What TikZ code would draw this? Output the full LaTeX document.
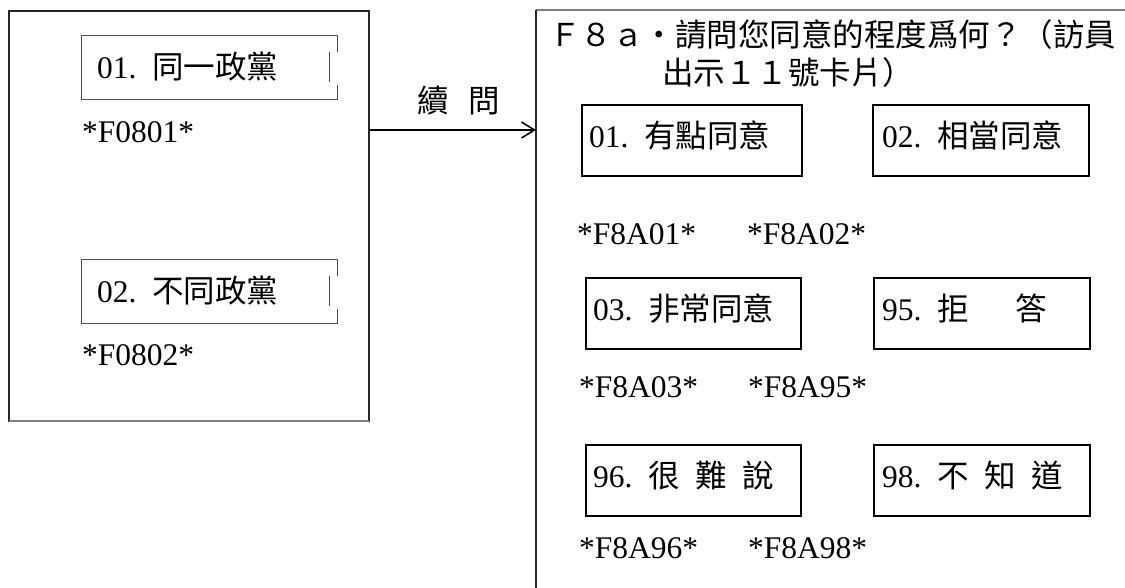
\documentclass[tikz,border=0pt]{standalone}
\usepackage{fontspec}
\setmainfont{Liberation Serif}
\newfontfamily\cjkfont{Noto Sans CJK TC}
\usetikzlibrary{arrows.meta}
\newcommand\cj[1]{{\cjkfont #1}}
\newcommand\fs{\fontsize{31.5}{38}\selectfont}
\begin{document}
\begin{tikzpicture}[x=1pt,y=-1pt,
  lbl/.style={anchor=base west, inner sep=0pt, outer sep=0pt, font=\fs},
  thinbox/.style={draw=black!70, line width=1pt},
  optbox/.style={draw=black, line width=2.5pt, anchor=north west, inner sep=0pt, outer sep=0pt, minimum width=216, minimum height=71},
  conn/.style={line width=2pt, -{Straight Barb[length=13pt,width=16pt,line width=1.6pt]}}]
\useasboundingbox (0,0) rectangle (1125,587);

% ---------- left panel ----------
\node[draw=black!85, line width=1.3pt, anchor=north west, minimum width=360, minimum height=410, inner sep=0pt, outer sep=0pt] (lbox) at (9,11) {};
\draw[black!50, line width=1.6pt] (lbox.south west) -- (lbox.south east);

% option box 01 (left)
\draw[thinbox] (337,35) -- (81,35) -- (81,99) -- (337,99) -- (337,85);
\draw[thinbox] (337,35) -- (337,52);
\draw[thinbox] (329,52) -- (329,82);
\node[lbl] (l01) at (97,78) {01.\hspace{0.5em}\cj{同一政黨}};
\node[lbl] (c0801) at (82,142) {*F0801*};

% option box 02 (left)
\draw[thinbox] (337,259) -- (81,259) -- (81,323) -- (337,323) -- (337,309);
\draw[thinbox] (337,259) -- (337,276);
\draw[thinbox] (329,276) -- (329,306);
\node[lbl] (l02) at (97,302) {02.\hspace{0.5em}\cj{不同政黨}};
\node[lbl] (c0802) at (82,365) {*F0802*};

% ---------- right panel ----------
\coordinate (rtl) at (536,10);
\draw[black!50, line width=1.6pt] (rtl) -- (1125,10);
\draw[black!85, line width=1.5pt] (rtl) -- (536,590);

\node[lbl] (title1) at (549,46) {\cj{Ｆ８ａ・請問您同意的程度爲何？（訪員}};
\node[lbl] (title2) at (662,84) {\cj{出示１１號卡片）}};

% row 1
\node[optbox, minimum width=220] (b01) at (582,105) {};
\node[optbox] (b02) at (873,105) {};
\node[lbl] (t01) at (589,147) {01.\hspace{0.5em}\cj{有點同意}};
\node[lbl] (t02) at (882,147) {02.\hspace{0.5em}\cj{相當同意}};
\node[lbl] (c01) at (577,244) {*F8A01*};
\node[lbl] (c02) at (747,244) {*F8A02*};

% row 2
\node[optbox, minimum width=215] (b03) at (586,278) {};
\node[optbox] (b95) at (874,278) {};
\node[lbl] (t03) at (593,320) {03.\hspace{0.5em}\cj{非常同意}};
\node[lbl] (t95) at (882,320) {95.\hspace{0.5em}\cj{拒}\hspace{1.5em}\cj{答}};
\node[lbl] (c03) at (579,397) {*F8A03*};
\node[lbl] (c95) at (748,397) {*F8A95*};

% row 3
\node[optbox, minimum width=215] (b96) at (586,445) {};
\node[optbox] (b98) at (874,445) {};
\node[lbl] (t96) at (593,487) {96.\hspace{0.5em}\cj{很}\hspace{0.5em}\cj{難}\hspace{0.5em}\cj{說}};
\node[lbl] (t98) at (882,487) {98.\hspace{0.5em}\cj{不}\hspace{0.5em}\cj{知}\hspace{0.5em}\cj{道}};
\node[lbl] (c96) at (579,558) {*F8A96*};
\node[lbl] (c98) at (748,558) {*F8A98*};

% ---------- connector ----------
\coordinate (ay) at (0,130);
\draw[conn] (lbox.east |- ay) -- (rtl |- ay);
\node[lbl] (lab) at (417,112) {\cj{續}\hspace{0.63em}\cj{問}};
\end{tikzpicture}
\end{document}
